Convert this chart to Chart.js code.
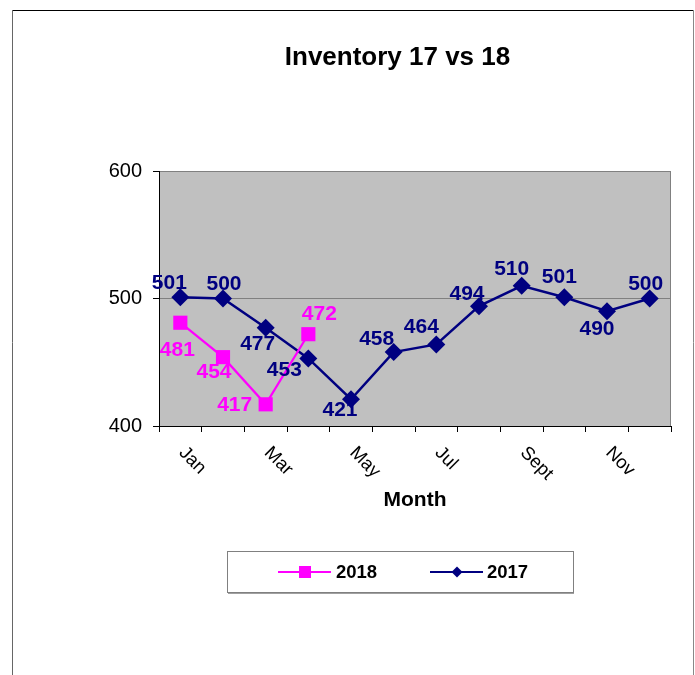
<!DOCTYPE html>
<html><head><meta charset="utf-8">
<script src="https://cdn.jsdelivr.net/npm/chart.js@4/dist/chart.umd.min.js"></script>
<style>html,body{margin:0;padding:0;background:#fff}#wrap{width:695px;height:675px;position:relative}</style>
</head><body><div id="wrap"><canvas id="c" width="695" height="675"></canvas></div>
<script>
// ---- data ----
const months = ['Jan','Feb','Mar','Apr','May','Jun','Jul','Aug','Sept','Oct','Nov','Dec'];
const shownMonths = ['Jan','Mar','May','Jul','Sept','Nov'];
const inv2018 = [481,454,417,472];
const inv2017 = [501,500,477,453,421,458,464,494,510,501,490,500];
const yTicks = [400,500,600];
const seriesNames = ['2018','2017'];
const chartTitle = 'Inventory 17 vs 18';

// ---- label placement (styling) ----
const off2018 = [[-3,27],[-9,15],[-31,1],[11,-20]];
const off2017 = [[-11,-14],[1,-14],[-8,16],[-24,12],[-11,11],[-17,-13],[-15,-17],[-12,-12],[-10,-17],[-5,-20],[-10,18],[-4,-14]];

const F = "'Liberation Sans', Arial, sans-serif";
const PINK = '#FF00FF', NAVY = '#000080';

const bgPlugin = {
  id:'bg',
  beforeDraw(chart){
    const {ctx, chartArea:a} = chart;
    ctx.save();
    ctx.fillStyle = '#fff';
    ctx.fillRect(0,0,chart.width,chart.height);
    ctx.fillStyle = '#C0C0C0';
    ctx.fillRect(a.left, a.top, a.right-a.left, a.bottom-a.top);
    ctx.restore();
  },
  afterDraw(chart){
    const {ctx, chartArea:a} = chart;
    const xs = chart.scales.x;
    ctx.save();
    // title
    ctx.fillStyle = '#000';
    ctx.font = 'bold 26px ' + F;
    ctx.textAlign = 'center'; ctx.textBaseline = 'middle';
    ctx.fillText(chartTitle, 397.5, 58);
    // plot right border
    ctx.strokeStyle = '#808080'; ctx.lineWidth = 1;
    ctx.beginPath(); ctx.moveTo(Math.round(a.right)-0.5, a.top); ctx.lineTo(Math.round(a.right)-0.5, a.bottom); ctx.stroke();
    // x labels rotated
    ctx.fillStyle = '#000';
    ctx.font = '18.5px ' + F;
    ctx.textAlign = 'left'; ctx.textBaseline = 'middle';
    months.forEach((m,i)=>{
      if (!shownMonths.includes(m)) return;
      const x = xs.getPixelForValue(i);
      ctx.save();
      ctx.translate(x+1.5, 450);
      ctx.rotate(Math.PI/4);
      ctx.fillText(m, 0, 0);
      ctx.restore();
    });
    // outer frame
    ctx.lineWidth = 1;
    ctx.strokeStyle = '#000';
    ctx.beginPath(); ctx.moveTo(12, 10.5); ctx.lineTo(694, 10.5); ctx.stroke();
    ctx.strokeStyle = '#666';
    ctx.beginPath(); ctx.moveTo(12.5, 10); ctx.lineTo(12.5, 675); ctx.stroke();
    ctx.strokeStyle = '#888';
    ctx.beginPath(); ctx.moveTo(693.5, 10); ctx.lineTo(693.5, 675); ctx.stroke();
    // legend
    ctx.strokeStyle = '#808080';
    ctx.strokeRect(227.5, 551.5, 346, 41);
    ctx.fillStyle = '#A0A0A0';
    ctx.fillRect(228, 593, 346, 1);
    const ly = 572;
    ctx.lineWidth = 2;
    ctx.strokeStyle = PINK;
    ctx.beginPath(); ctx.moveTo(278, ly); ctx.lineTo(331, ly); ctx.stroke();
    ctx.fillStyle = PINK; ctx.fillRect(299, ly-6, 12, 12);
    ctx.strokeStyle = NAVY;
    ctx.beginPath(); ctx.moveTo(430, ly); ctx.lineTo(483, ly); ctx.stroke();
    ctx.fillStyle = NAVY;
    ctx.beginPath(); ctx.moveTo(457, ly-5.5); ctx.lineTo(462.5, ly); ctx.lineTo(457, ly+5.5); ctx.lineTo(451.5, ly); ctx.closePath(); ctx.fill();
    ctx.fillStyle = '#000';
    ctx.font = 'bold 18.5px ' + F;
    ctx.textAlign = 'left'; ctx.textBaseline = 'middle';
    ctx.fillText(seriesNames[0], 336, ly+1);
    ctx.fillText(seriesNames[1], 487, ly+1);
    ctx.restore();
  },
  afterDatasetsDraw(chart){
    const {ctx} = chart;
    ctx.save();
    ctx.font = 'bold 21px ' + F;
    ctx.textAlign = 'center'; ctx.textBaseline = 'middle';
    const offs = [off2018, off2017];
    const cols = [PINK, NAVY];
    chart.data.datasets.forEach((ds, di)=>{
      const meta = chart.getDatasetMeta(di);
      ctx.fillStyle = cols[di];
      meta.data.forEach((pt, i)=>{
        const v = ds.data[i];
        if (v == null) return;
        const o = offs[di][i];
        ctx.fillText(String(v), pt.x + o[0], pt.y + o[1]);
      });
    });
    ctx.restore();
  }
};

new Chart(document.getElementById('c'), {
  type:'line',
  data:{
    labels: months,
    datasets:[
      {label:seriesNames[0], data:inv2018, borderColor:PINK, backgroundColor:PINK, borderWidth:2.2,
       pointStyle:'rect', pointRadius:10, pointBorderWidth:0, pointHoverRadius:10, tension:0},
      {label:seriesNames[1], data:inv2017, borderColor:NAVY, backgroundColor:NAVY, borderWidth:2.5,
       pointStyle:'rectRot', pointRadius:9, pointBorderWidth:0, pointHoverRadius:9, tension:0}
    ]
  },
  options:{
    responsive:false, animation:false, devicePixelRatio:1,
    events:[],
    layout:{padding:{left:0, right:24, top:171, bottom:149}},
    plugins:{
      legend:{display:false},
      tooltip:{enabled:false},
      title:{display:false}
    },
    scales:{
      x:{
        type:'category', offset:true,
        grid:{offset:true, drawOnChartArea:false, drawTicks:true, tickLength:6, tickColor:'#000'},
        border:{color:'#000', width:1},
        ticks:{display:false},
        title:{display:true, text:'Month', color:'#000', font:{family:F, size:21, weight:'bold'}, padding:{top:0, bottom:13}},
        afterFit:(s)=>{ s.height = 100; }
      },
      y:{
        min:400, max:600,
        afterBuildTicks:(s)=>{ s.ticks = yTicks.map(v=>({value:v})); },
        grid:{
          color:(c)=> (c.tick && c.tick.value !== 400) ? '#808080' : 'rgba(0,0,0,0)',
          tickColor:'#000', tickLength:6, lineWidth:1
        },
        border:{color:'#000', width:1},
        ticks:{color:'#000', font:{family:F, size:20}, padding:11},
        afterFit:(s)=>{ s.width = 159; }
      }
    }
  },
  plugins:[bgPlugin]
});
</script>
</body></html>
